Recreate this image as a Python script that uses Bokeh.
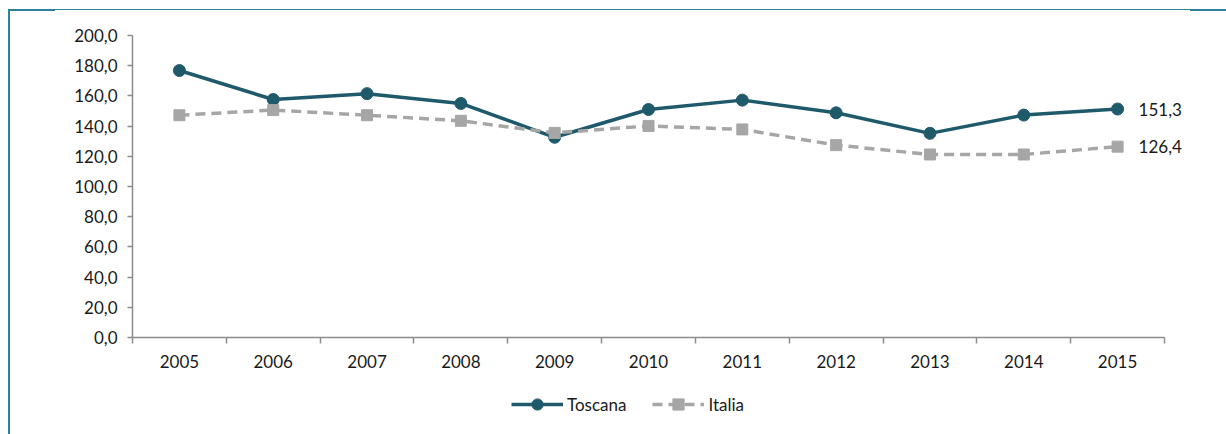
import numpy as np
from bokeh.plotting import figure
from bokeh.layouts import column
from bokeh.models import (FixedTicker, Range1d, Legend, LegendItem, Label)
from bokeh.embed import file_html
from bokeh.resources import INLINE

years = ["2005", "2006", "2007", "2008", "2009", "2010",
         "2011", "2012", "2013", "2014", "2015"]
toscana = [176.8, 157.6, 161.5, 155.0, 132.6, 151.0,
           157.2, 148.8, 135.2, 147.3, 151.3]
italia = [147.2, 150.6, 147.2, 143.5, 135.5, 140.1,
          137.8, 127.4, 121.2, 121.2, 126.4]
y_ticks = [0, 20, 40, 60, 80, 100, 120, 140, 160, 180, 200]

FONT = "Lato"
FS = "17px"
TEXT = "#1a1a1a"
TEAL = "#1f5a6b"
GREY = "#a6a6a6"
FRAME = "#2c8299"
AXIS = "#8c8c8c"

W, H, H_CHART = 1226, 434, 380


def fmt(v):
    return f"{v:.1f}".replace(".", ",")


n = len(years)
x = np.arange(n) + 0.5

# plot frame spans x 132..1220; the category axis covers slots 0..n only,
# the extra room on the right holds the end-of-series value labels
frame_left, frame_right, axis_right = 132, 1220, 1164
x_end = n * (frame_right - frame_left) / (axis_right - frame_left)

p = figure(width=W, height=H_CHART, output_backend="svg", toolbar_location=None,
           x_range=Range1d(0, x_end), y_range=Range1d(0, 200),
           min_border_left=frame_left, min_border_right=W - frame_right,
           min_border_top=35, min_border_bottom=43)
p.outline_line_color = None
p.grid.grid_line_color = None
p.background_fill_color = "white"
p.border_fill_alpha = 0

# x axis: year labels centred in each slot, ticks on slot boundaries
p.xaxis.bounds = (0, n)
p.xaxis.ticker = FixedTicker(ticks=list(x), minor_ticks=list(range(n + 1)))
p.xaxis.major_label_overrides = {float(v): y for v, y in zip(x, years)}
p.xaxis.major_tick_out = 0
p.xaxis.major_tick_in = 0
p.xaxis.minor_tick_out = 6
p.xaxis.minor_tick_in = 0
p.xaxis.minor_tick_line_color = AXIS
p.xaxis.minor_tick_line_width = 1.5
p.xaxis.major_label_standoff = 11

p.yaxis.ticker = FixedTicker(ticks=y_ticks, minor_ticks=[])
p.yaxis.major_label_overrides = {t: fmt(t) for t in y_ticks}
p.yaxis.major_tick_out = 5
p.yaxis.major_tick_in = 0
p.yaxis.major_tick_line_color = AXIS
p.yaxis.major_tick_line_width = 1.5
p.yaxis.major_label_standoff = 10

for ax in (p.xaxis, p.yaxis):
    ax.axis_line_color = AXIS
    ax.axis_line_width = 1.5
    ax.major_label_text_font = FONT
    ax.major_label_text_font_size = FS
    ax.major_label_text_color = TEXT

# series
line_t = dict(line_color=TEAL, line_width=3.5)
pts_t = dict(marker="circle", size=12, fill_color=TEAL, line_color=TEAL)
line_i = dict(line_color=GREY, line_width=3.5, line_dash="10 6")
pts_i = dict(marker="square", size=11, fill_color=GREY, line_color=GREY)

p.line(x, toscana, **line_t)
p.scatter(x, toscana, **pts_t)
p.line(x, italia, **line_i)
p.scatter(x, italia, **pts_i)

# end-of-series value labels
for vals in (toscana, italia):
    p.add_layout(Label(x=x[-1], y=vals[-1], text=fmt(vals[-1]),
                       x_offset=21, y_offset=0, text_baseline="middle",
                       text_font=FONT, text_font_size=FS,
                       text_color=TEXT))

# legend strip under the chart; its key renderers sit outside the visible range
lg = figure(width=W, height=H - H_CHART, output_backend="svg",
            toolbar_location=None, x_axis_type=None, y_axis_type=None,
            x_range=Range1d(0, 1), y_range=Range1d(0, 1),
            min_border=0)
lg.outline_line_color = None
lg.grid.grid_line_color = None
lg.background_fill_alpha = 0
lg.border_fill_alpha = 0
off = [5, 6]
k_t = [lg.line(off, off, **line_t), lg.scatter(off, off, **pts_t)]
k_i = [lg.line(off, off, **line_i), lg.scatter(off, off, **pts_i)]
legend = Legend(items=[LegendItem(label="Toscana", renderers=k_t),
                       LegendItem(label="Italia", renderers=k_i)],
                orientation="horizontal", location=(379, 16),
                glyph_width=52, glyph_height=28, label_standoff=4, spacing=26,
                padding=0, margin=0, border_line_color=None,
                background_fill_alpha=0,
                label_text_font=FONT, label_text_font_size=FS,
                label_text_color=TEXT)
lg.add_layout(legend, "center")

page = column(p, lg, spacing=0)

# thin teal page rules (left edge and top edge, heavier at both top ends)
seg = "linear-gradient({c},{c}) {x}px {y}px / {w}px {h}px no-repeat"
rules = [(8, 9, 2, 425), (8, 9, 1218, 1), (8, 9, 47, 2), (1190, 9, 36, 2)]
page.styles = {"background": ", ".join(seg.format(c=FRAME, x=a, y=b, w=w, h=h)
                                       for a, b, w, h in rules)}

open("out.html", "w").write(file_html(page, INLINE))
